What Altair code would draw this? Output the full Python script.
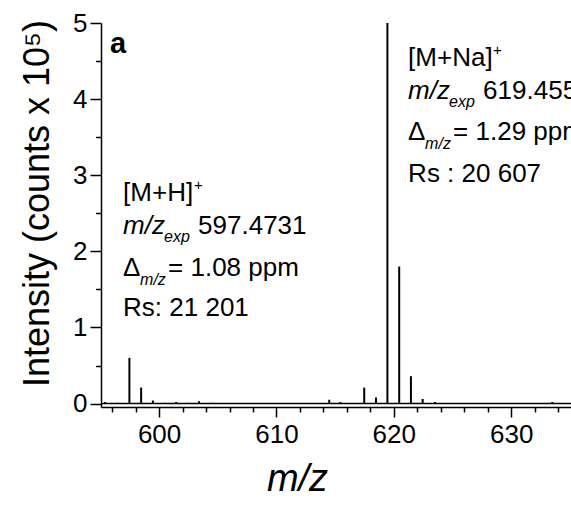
import altair as alt
import pandas as pd

# ---- data ----
mz = [595.4, 596.45, 597.47, 598.47, 599.47, 600.5, 601.45, 602.5, 603.4, 604.5,
      614.5, 615.45, 617.48, 618.48, 619.455, 620.46, 621.46, 622.46, 623.5, 633.5]
intensity = [0.02, 0.01, 0.60, 0.21, 0.04, 0.01, 0.02, 0.01, 0.03, 0.01,
             0.05, 0.02, 0.21, 0.08, 5.30, 1.80, 0.36, 0.06, 0.02, 0.02]
x_major = [600, 610, 620, 630]
x_minor = [596, 598, 602, 604, 606, 608, 612, 614, 616, 618, 622, 624, 626, 628, 632, 634]
y_major = [0, 1, 2, 3, 4, 5]
y_minor = [0.5, 1.5, 2.5, 3.5, 4.5]

df = pd.DataFrame({"mz": mz, "intensity": intensity})
xm_df = pd.DataFrame({"mx": x_minor})
ym_df = pd.DataFrame({"my": y_minor})
one = pd.DataFrame({"k": [0]})

FONT = "Arial"
xscale = alt.Scale(domain=[595.05, 635.1], nice=False, zero=False)
yscale = alt.Scale(domain=[-0.045, 5], nice=False, zero=False)

common = dict(grid=False, domainColor="black", domainWidth=1.5, tickColor="black",
              tickWidth=1.5, labelFont=FONT, labelFontSize=26, labelColor="black",
              labelOverlap=False, labelFlush=False)

x_axis = alt.Axis(
    values=x_major, orient="bottom", tickSize=10, labelPadding=4, format="d", **common,
    title="m/z", titleFont=FONT, titleFontSize=38, titleFontStyle="italic",
    titleFontWeight="normal", titleColor="black",
    titleX=196, titleY=72, titleAlign="center", titleBaseline="middle",
)
y_axis = alt.Axis(
    values=y_major, orient="left", tickSize=11, labelPadding=3, format="d", **common,
    title="Intensity (counts x 10\u2075)", titleFont=FONT, titleFontSize=36,
    titleFontWeight="normal", titleColor="black",
    titleX=-64, titleY=180, titleAngle=270, titleAlign="center", titleBaseline="middle",
)
x_minor_axis = alt.Axis(values=x_minor, orient="bottom", tickSize=5, tickWidth=1.5,
                        tickColor="black", domain=False, labels=False, grid=False, title=None)
y_minor_axis = alt.Axis(values=y_minor, orient="left", tickSize=5.5, tickWidth=1.5,
                        tickColor="black", domain=False, labels=False, grid=False, title=None)

sticks = alt.Chart(df).mark_rule(color="black", strokeWidth=2, clip=True).encode(
    x=alt.X("mz:Q", scale=xscale, axis=x_axis),
    y=alt.Y("intensity:Q", scale=yscale, axis=y_axis),
    y2=alt.datum(0),
)
x_minor_layer = alt.Chart(xm_df).mark_rule(opacity=0).encode(
    x=alt.X("mx:Q", scale=xscale, axis=x_minor_axis))
y_minor_layer = alt.Chart(ym_df).mark_rule(opacity=0).encode(
    y=alt.Y("my:Q", scale=yscale, axis=y_minor_axis))
baseline = alt.Chart(one).mark_rule(color="black", strokeWidth=1.5).encode(
    y=alt.YDatum(0, axis=None))


def txt(s, x, y, dx=0, dy=0, size=26, style="normal", weight="normal"):
    return alt.Chart(one).mark_text(
        text=s, align="left", baseline="alphabetic", dx=dx, dy=dy, fontSize=size,
        fontStyle=style, fontWeight=weight, font=FONT, color="black", clip=True,
    ).encode(x=alt.XDatum(x, axis=None), y=alt.YDatum(y, axis=None))


def block(x, y, ion, plus_dx, mzval, ppm, rs, gaps):
    g1, g2, g3 = gaps
    return [
        txt(ion, x, y),
        txt("+", x, y, dx=plus_dx, dy=-11, size=15),
        txt("m/z", x, y, dy=g1, style="italic"),
        txt("exp", x, y, dx=41, dy=g1 + 8, size=16, style="italic"),
        txt(mzval, x, y, dx=75, dy=g1),
        txt("\u0394", x, y, dy=g2),
        txt("m/z", x, y, dx=17, dy=g2 + 9, size=16, style="italic"),
        txt("= " + ppm + " ppm", x, y, dx=45, dy=g2),
        txt(rs, x, y, dy=g3),
    ]


layers = [sticks, x_minor_layer, y_minor_layer, baseline]
layers += block(596.93, 2.66, "[M+H]", 71, "597.4731", "1.08", "Rs: 21 201", (33, 75, 115))
layers += block(621.22, 4.43, "[M+Na]", 85, "619.455", "1.29", "Rs : 20 607", (33, 74, 116))
layers.append(txt("a", 595.82, 4.61, size=29, weight="bold"))

chart = alt.layer(*layers).resolve_axis(x="independent", y="independent").properties(
    width=470, height=384,
    padding={"left": 101, "top": 23, "right": 0, "bottom": 110},
    autosize="none", background="white",
).configure_view(stroke=None)

chart.save("out.html", embed_options={"renderer": "svg", "actions": False})
